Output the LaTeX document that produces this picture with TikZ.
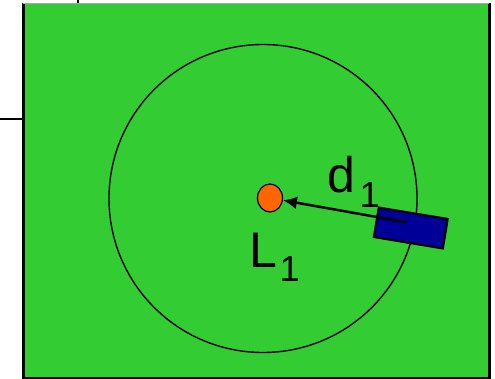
\documentclass[tikz,border=0pt]{standalone}
\usepackage{fontspec}
\setmainfont{Liberation Sans}
\usetikzlibrary{shapes.geometric,arrows.meta}
\definecolor{fieldgreen}{RGB}{51,204,51}
\definecolor{dotorange}{RGB}{255,102,0}
\definecolor{boxblue}{RGB}{0,0,153}
\tikzset{
  bigtxt/.style={font=\fontsize{50}{50}\selectfont, inner sep=0pt, anchor=base west},
  subtxt/.style={font=\fontsize{36}{36}\selectfont, inner sep=0pt, anchor=base west},
}
\begin{document}
\begin{tikzpicture}[x=1pt,y=-1pt]
\useasboundingbox (0,0) rectangle (495,379);
% field
\fill[fieldgreen] (23,4) rectangle (489,378);
\draw[line width=3pt] (23,3.5) -- (23,378) -- (489,378) -- (489,3.5);
\draw[line width=1.5pt, gray!70] (23,3.5) -- (489,3.5);
% stray lines
\draw[line width=2pt] (0,119.5) -- (22,119.5);
\draw[line width=2pt] (78,0) -- (78,3);
% range circle
\node[draw, circle, line width=1.4pt, minimum size=308pt, inner sep=0pt] (range) at (263,198.5) {};
% landmark
\node[draw, ellipse, fill=dotorange, line width=1.2pt, minimum width=25pt, minimum height=28pt, inner sep=0pt] (dot) at (270,198) {};
% robot
\node[draw, fill=boxblue, line width=2pt, minimum width=70pt, minimum height=30pt, inner sep=0pt, rotate=-9.4] (robot) at (410.8,228) {};
\coordinate (start) at (406.7,222.3);
\draw[line width=2.5pt, -{Latex[length=14pt,width=13pt]}] (start) -- (dot);
% labels
\node[bigtxt] (dlab) at (327,193) {d};
\node[subtxt] (dsub) at (359.5,208) {1};
\node[bigtxt] (llab) at (249,268) {L};
\node[subtxt] (lsub) at (279.5,282) {1};
\end{tikzpicture}
\end{document}
